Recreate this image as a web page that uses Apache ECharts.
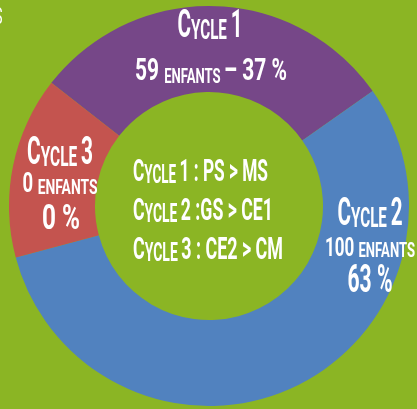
<!DOCTYPE html>
<html>
<head>
<meta charset="utf-8">
<script src="https://cdn.jsdelivr.net/npm/echarts@6/dist/echarts.min.js"></script>
<style>
html,body{margin:0;padding:0;background:#8bb524;}
#chart{width:417px;height:409px;}
</style>
</head>
<body>
<div id="chart"></div>
<script>
// ---- data ----
const cycleNames = ['Cycle 1', 'Cycle 2', 'Cycle 3'];
const enfants = [59, 100, 0];
const percents = [37, 63, 0];
// share of the ring each slice occupies in the picture (degrees read / 3.6)
const sliceValues = [29.7, 55.6, 14.7];
const centerLines = ['Cycle 1 : PS > MS', 'Cycle 2 :GS > CE1', 'Cycle 3 : CE2 > CM'];
const colors = ['#764788', '#5182bf', '#c4544f'];

const FONT = 'Roboto';
const ctx = document.createElement('canvas').getContext('2d');

// build small-caps rich text: lowercase -> small capitals
function runsOf(str) {
  const runs = [];
  for (const ch of str) {
    let k;
    if (/[a-zà-ÿ]/.test(ch)) k = 's';
    else if (ch === ' ' && runs.length) k = runs[runs.length - 1].k;
    else k = 'b';
    const t = k === 's' ? ch.toUpperCase() : ch;
    if (runs.length && runs[runs.length - 1].k === k) runs[runs.length - 1].t += t;
    else runs.push({k: k, t: t});
  }
  return runs;
}
function makeText(str, big, small, x, baseline, width, align) {
  const runs = runsOf(str);
  let w = 0;
  runs.forEach(r => {
    ctx.font = 'bold ' + (r.k === 'b' ? big : small) + 'px ' + FONT;
    w += ctx.measureText(r.t).width;
  });
  const text = runs.map(r => '{' + r.k + '|' + r.t.replace(/[{}|]/g, '') + '}').join('');
  return {
    type: 'text',
    x: x,
    y: baseline + big * 0.16,
    scaleX: width / w,
    silent: true,
    z: 10,
    style: {
      text: text,
      fill: '#ffffff',
      fontFamily: FONT,
      fontWeight: 'bold',
      textAlign: align || 'center',
      textVerticalAlign: 'bottom',
      rich: {
        b: {fontSize: big, lineHeight: big, verticalAlign: 'bottom', fill: '#fff', fontFamily: FONT, fontWeight: 'bold'},
        s: {fontSize: small, lineHeight: small, verticalAlign: 'bottom', fill: '#fff', fontFamily: FONT, fontWeight: 'bold'}
      }
    }
  };
}

const graphics = [
  // Cycle 1
  makeText(cycleNames[0], 38, 28, 210, 40, 65),
  makeText(enfants[0] + ' enfants – ' + percents[0] + ' %', 32, 20, 211, 83, 152),
  // Cycle 3
  makeText(cycleNames[2], 38, 28, 60, 167, 66),
  makeText(enfants[2] + ' enfants', 28, 21, 60, 195, 75),
  makeText(percents[2] + ' %', 35, 35, 61, 232, 38),
  // Cycle 2
  makeText(cycleNames[1], 38, 28, 370, 228, 65),
  makeText(enfants[1] + ' enfants', 26, 20, 370, 258, 90),
  makeText(percents[1] + ' %', 38, 38, 370, 295, 45),
  // centre text
  makeText(centerLines[0], 32, 25, 133, 184, 135, 'left'),
  makeText(centerLines[1], 32, 25, 133, 223, 140, 'left'),
  makeText(centerLines[2], 32, 25, 133, 262, 150, 'left'),
  // cut-off letter at top-left corner
  {type: 'text', x: -6, y: 6, scaleX: 0.6, silent: true,
   style: {text: 'S', fill: '#fff', fontFamily: FONT, fontSize: 24, fontWeight: 'normal', textAlign: 'left', textVerticalAlign: 'top'}}
];

const chart = echarts.init(document.getElementById('chart'), null, {renderer: 'canvas'});
chart.setOption({
  backgroundColor: '#8bb524',
  animation: false,
  graphic: graphics,
  series: [{
    type: 'pie',
    center: [209, 206],
    radius: [114, 200],
    startAngle: 142,
    clockwise: true,
    silent: true,
    label: {show: false},
    labelLine: {show: false},
    emphasis: {disabled: true},
    itemStyle: {borderWidth: 0},
    data: cycleNames.map((n, i) => ({name: n, value: sliceValues[i], itemStyle: {color: colors[i]}}))
  }]
});
</script>
</body>
</html>
